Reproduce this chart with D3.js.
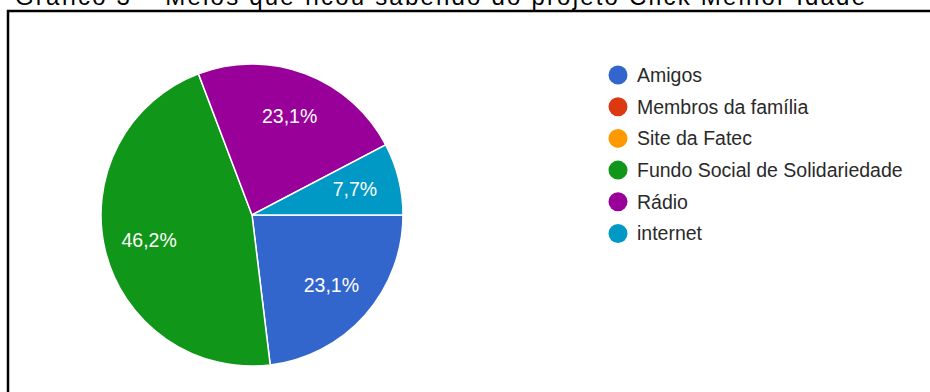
<!DOCTYPE html>
<html>
<head>
  <title>Gráfico 3</title>
  <meta charset="utf-8">
  <script src="https://d3js.org/d3.v7.min.js"></script>
  <style>
    body { margin: 0; background: #fff; }
  </style>
</head>
<body>
<script>

var categories = ["Amigos", "Membros da família", "Site da Fatec", "Fundo Social de Solidariedade", "Rádio", "internet"];
var counts = [3, 0, 0, 6, 3, 1];
var colors = ["#3366cc", "#dc3912", "#ff9900", "#109618", "#990099", "#0099c6"];
var title = "Gráfico 3 – Meios que ficou sabendo do projeto Click Melhor Idade";

var svgWidth = 930;
var svgHeight = 392;

var svg = d3.select('body').append('svg')
    .attr('width', svgWidth)
    .attr('height', svgHeight);

// caption, cut at the top like in the scan
svg.append("text")
    .attr("x", 15)
    .attr("y", 5)
    .attr("textLength", 850)
    .style("font", "24px 'Liberation Sans', Arial, sans-serif")
    .style("fill", "#000")
    .text(title);

// frame
svg.append("path")
    .attr("d", "M8,392V11H930")
    .attr("fill", "none")
    .attr("stroke", "#000")
    .attr("stroke-width", 2.5);

var z = d3.scaleOrdinal().domain(categories).range(colors);

var radius = 151;
var graph = svg.append("g")
    .attr("transform", "translate(252,215)");

var total = d3.sum(counts);
var data = categories.map(function(c, i) { return {id: c, value: counts[i]}; });

var pie = d3.pie()
    .sort(null)
    .value(function(d) { return d.value; })
    .startAngle(Math.PI / 2)
    .endAngle(Math.PI / 2 + 2 * Math.PI);

var arc = d3.arc().innerRadius(0).outerRadius(radius);
var labelArc = d3.arc().innerRadius(106).outerRadius(106);

var slices = graph.selectAll(".slice")
    .data(pie(data).filter(function(d) { return d.data.value > 0; }))
    .enter().append("g")
      .attr("class", "slice");

slices.append("path")
    .attr("d", arc)
    .style("fill", function(d) { return z(d.data.id); })
    .style("stroke", "#fff")
    .style("stroke-width", 1.5);

var fmt = function(v) { return (v / total * 100).toFixed(1).replace(".", ",") + "%"; };

slices.append("text")
    .attr("transform", function(d) { return "translate(" + labelArc.centroid(d) + ")"; })
    .attr("text-anchor", "middle")
    .attr("dy", "0.35em")
    .style("font", "19.5px 'Liberation Sans', Arial, sans-serif")
    .style("fill", "#fff")
    .text(function(d) { return fmt(d.data.value); });

// legend
var legend = svg.selectAll(".legend")
    .data(categories)
    .enter().append("g")
      .attr("class", "legend")
      .attr("transform", function(d, i) { return "translate(618," + (75 + i * 31.7) + ")"; });

legend.append("circle")
    .attr("r", 9.5)
    .style("fill", function(d) { return z(d); });

legend.append("text")
    .attr("x", 19)
    .attr("dy", "0.35em")
    .style("font", "19.5px 'Liberation Sans', Arial, sans-serif")
    .style("fill", "#2a2a2a")
    .text(function(d) { return d; });

</script>
</body>
</html>
